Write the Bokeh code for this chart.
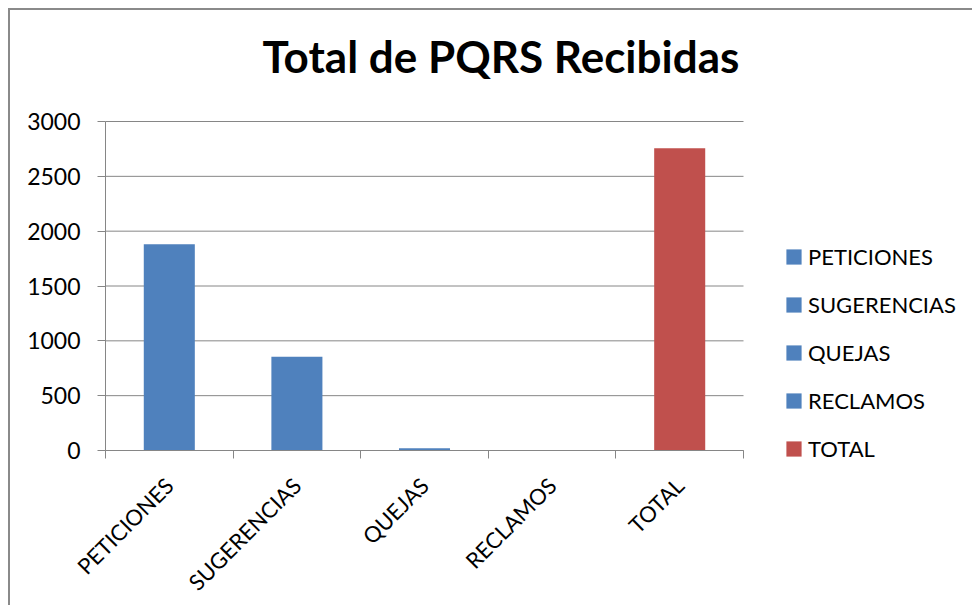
from bokeh.plotting import figure
from bokeh.models import ColumnDataSource, FixedTicker, Range1d
from bokeh.embed import file_html
from bokeh.resources import INLINE

categories = ["PETICIONES", "SUGERENCIAS", "QUEJAS", "RECLAMOS", "TOTAL"]
values = [1880, 855, 20, 0, 2755]
bar_colors = ["#4F81BD", "#4F81BD", "#4F81BD", "#4F81BD", "#C0504D"]
y_ticks = [0, 500, 1000, 1500, 2000, 2500, 3000]
y_max = 3000

FONT = "Lato"
GRID = "#868686"

# canvas geometry (px)
W, H = 964, 597
LEFT = 95          # pixel column of the y axis
AXIS_PX = 638      # pixel width of the category axis
TOP_Y = 111        # pixel row of y = 3000
PLOT_H = 329       # pixel height of 0..3000
FRAME_TOP = 86     # frame starts a bit above 3000 to leave room for the title
n = len(categories)
py = PLOT_H / y_max
px = AXIS_PX / n
x_start = -LEFT / px
x_end = (W - LEFT) / px
y_end = y_max + (TOP_Y - FRAME_TOP) / py
y_start = -(H - TOP_Y - PLOT_H) / py

xs = [i + 0.5 for i in range(n)]
source = ColumnDataSource(dict(x=xs, top=values, cat=categories, color=bar_colors))

p = figure(width=W, height=H, output_backend="svg", toolbar_location=None,
           x_range=Range1d(x_start, x_end), y_range=Range1d(y_start, y_end),
           min_border_left=0, min_border_right=0, min_border_top=FRAME_TOP, min_border_bottom=0,
           styles={"margin-left": "8px", "margin-top": "8px",
                   "border-left": "2px solid #8a8a8a", "border-top": "2px solid #8a8a8a"})
p.outline_line_color = None
p.background_fill_color = "white"
p.border_fill_color = "white"

p.title.text = "Total de PQRS Recibidas"
p.title.align = "left"
p.title.offset = 157 + LEFT
p.title.text_font = FONT
p.title.text_font_size = "44px"
p.title.text_font_style = "bold"
p.title.text_color = "black"
p.title.standoff = 30

# horizontal grid lines limited to the category axis
p.segment(x0=[0] * len(y_ticks), x1=[n] * len(y_ticks), y0=y_ticks, y1=y_ticks,
          line_color=GRID, line_width=1)

p.vbar(x="x", top="top", width=0.4, fill_color="color", line_color=None,
       source=source, legend_field="cat")

# x axis at y=0: labels at centers, tick marks at category boundaries
p.xaxis.fixed_location = 0
p.xaxis.ticker = FixedTicker(ticks=xs, minor_ticks=list(range(n + 1)))
p.xaxis.bounds = (0, n)
p.xaxis.major_label_overrides = {x: c for x, c in zip(xs, categories)}
p.xaxis.major_tick_out = 0
p.xaxis.major_tick_in = 0
p.xaxis.minor_tick_out = 8
p.xaxis.minor_tick_in = 0
p.xaxis.minor_tick_line_color = GRID
p.xaxis.axis_line_color = GRID
p.xaxis.major_label_orientation = 0.785398
p.xaxis.major_label_text_font = FONT
p.xaxis.major_label_text_font_size = "22px"
p.xaxis.major_label_text_color = "black"
p.xaxis.major_label_standoff = 23
p.xgrid.visible = False
p.ygrid.visible = False

# y axis at x=0
p.yaxis.fixed_location = 0
p.yaxis.ticker = FixedTicker(ticks=y_ticks)
p.yaxis.bounds = (0, y_max)
p.yaxis.major_tick_out = 8
p.yaxis.major_tick_in = 0
p.yaxis.minor_tick_line_color = None
p.yaxis.major_tick_line_color = GRID
p.yaxis.axis_line_color = GRID
p.yaxis.major_label_text_font = FONT
p.yaxis.major_label_text_font_size = "23px"
p.yaxis.major_label_text_color = "black"
p.yaxis.major_label_standoff = 17

lg = p.legend[0]
lg.location = (LEFT + 679, H - 452)
lg.border_line_alpha = 0
lg.background_fill_alpha = 0
lg.padding = 0
lg.margin = 0
lg.glyph_width = 19
lg.glyph_height = 19
lg.label_standoff = 5
lg.spacing = 21
lg.label_text_font = FONT
lg.label_text_font_size = "22px"
lg.label_text_color = "black"

open("out.html", "w").write(file_html(p, INLINE))
